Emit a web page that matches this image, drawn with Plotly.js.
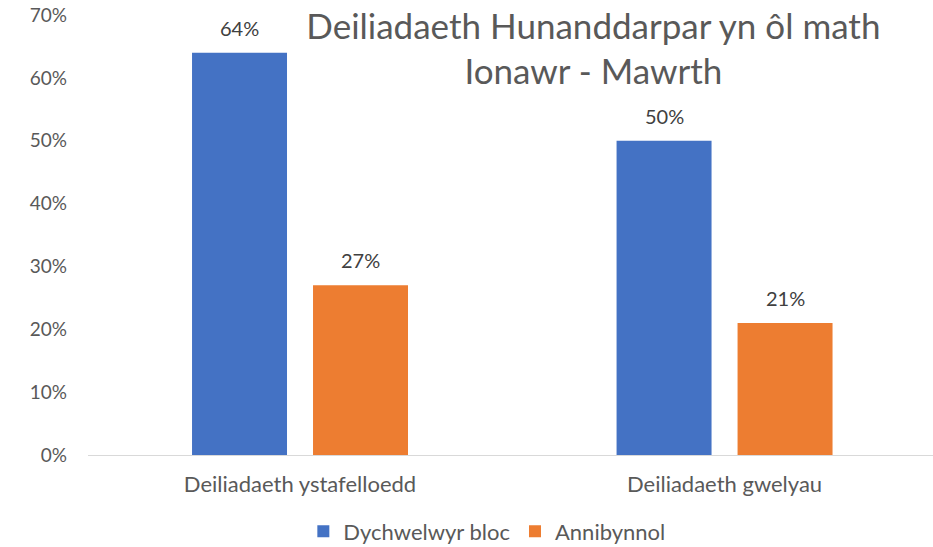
<!DOCTYPE html>
<html><head><meta charset="utf-8">
<script src="https://cdn.plot.ly/plotly-3.0.1.min.js"></script>
<style>body{margin:0;background:#fff}#c{width:933px;height:547px}</style>
</head><body><div id="c"></div>
<script>
var categories = ["Deiliadaeth ystafelloedd", "Deiliadaeth gwelyau"];
var seriesNames = ["Dychwelwyr bloc", "Annibynnol"];
var blocValues = [0.64, 0.50];
var annibynnolValues = [0.27, 0.21];
var tickVals = [0, 0.1, 0.2, 0.3, 0.4, 0.5, 0.6, 0.7];
var tickText = ["0%", "10%", "20%", "30%", "40%", "50%", "60%", "70%"];

var font = "Lato, 'Open Sans', sans-serif";
function pct(x){ return Math.round(x*100) + "%"; }

var traces = [
  {type:"bar", x:categories, y:blocValues, name:seriesNames[0], marker:{color:"#4472C4"}, hoverinfo:"none"},
  {type:"bar", x:categories, y:annibynnolValues, name:seriesNames[1], marker:{color:"#ED7D31"}, hoverinfo:"none"}
];

var annotations = [];
[[blocValues, -60.5], [annibynnolValues, 60.5]].forEach(function(s){
  s[0].forEach(function(v, i){
    annotations.push({x:categories[i], y:v, xref:"x", yref:"y", text:pct(v), showarrow:false,
      xshift:s[1], yshift:25, font:{family:font, size:20, color:"#404040"}});
  });
});

var layout = {
  width:933, height:547,
  margin:{l:88, r:0, t:15, b:92, autoexpand:false},
  paper_bgcolor:"#fff", plot_bgcolor:"#fff",
  barmode:"group", bargap:0.43, bargroupgap:0.215,
  showlegend:true,
  legend:{orientation:"h", x:0.472, xanchor:"center", y:-0.174, yanchor:"middle",
          font:{family:font, size:22, color:"#595959"}, itemwidth:30, tracegroupgap:0},
  title:{text:"Deiliadaeth Hunanddarpar yn ôl math<br>Ionawr - Mawrth", x:0.636, xanchor:"center",
         y:0.929, yanchor:"top", font:{family:font, size:35, color:"#595959"}},
  annotations:annotations,
  xaxis:{range:[-0.4994, 1.491], showgrid:false, zeroline:false, showline:true, linecolor:"#d9d9d9",
         linewidth:1, ticks:"", ticklabelstandoff:10, tickfont:{family:font, size:22, color:"#595959"}, fixedrange:true},
  yaxis:{range:[0, 0.7], tickvals:tickVals, ticktext:tickText, showgrid:false, zeroline:false,
         showline:false, ticks:"", ticklabelstandoff:20,
         tickfont:{family:font, size:19, color:"#595959"}, fixedrange:true}
};
Plotly.newPlot("c", traces, layout, {displayModeBar:false, staticPlot:true});
</script></body></html>
